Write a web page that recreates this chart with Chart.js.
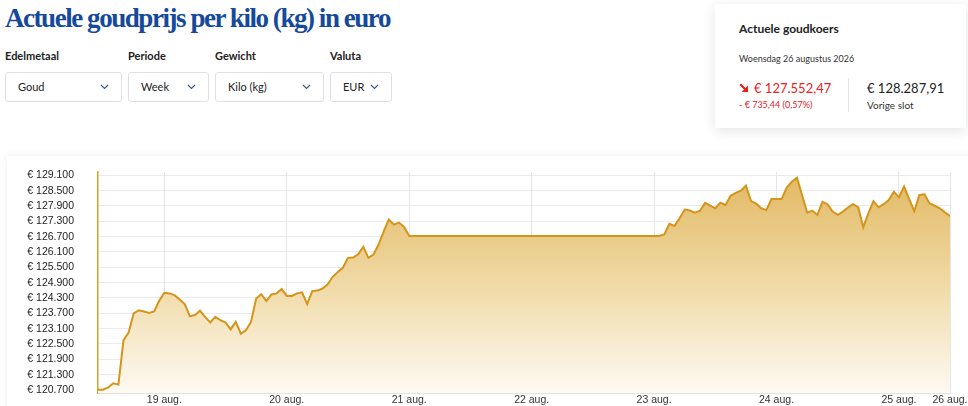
<!DOCTYPE html>
<html>
<head>
<meta charset="utf-8">
<script src="https://cdn.jsdelivr.net/npm/chart.js@4.4.1/dist/chart.umd.min.js"></script>
<style>
html, body { margin: 0; padding: 0; width: 968px; height: 406px; overflow: hidden; background: #fff; }
body { position: relative; font-family: Lato, 'Open Sans', sans-serif; color: #1f1f1f; }
h1 { position: absolute; left: 5px; top: 2px; margin: 0; font-family: 'Liberation Serif', serif; font-weight: 700;
     font-size: 27px; line-height: 32px; color: #15499c; letter-spacing: -1.45px; white-space: nowrap; }
.lbl { position: absolute; top: 48px; font-size: 11px; line-height: 15px; font-weight: 700; color: #222; }
.sel { position: absolute; top: 72px; height: 30px; box-sizing: border-box; border: 1px solid #dde1e7; border-radius: 3px;
       font-size: 11px; line-height: 28px; padding-left: 12px; color: #222; }
.sel svg { position: absolute; right: 12px; top: 11px; }
.card { position: absolute; left: 715px; top: 4px; width: 251px; height: 124px; background: #fff;
        box-shadow: 0 3px 12px rgba(30, 40, 60, 0.12); }
.card div { position: absolute; white-space: nowrap; }
.panel { position: absolute; left: 7px; top: 156px; width: 980px; height: 270px; background: #fff;
         box-shadow: 0 0 8px rgba(30, 40, 60, 0.08); }
#goldChart { position: absolute; left: 7px; top: 157px; }
</style>
</head>
<body>
<h1>Actuele goudprijs per kilo (kg) in euro</h1>

<div class="lbl" style="left:5px">Edelmetaal</div>
<div class="lbl" style="left:128px">Periode</div>
<div class="lbl" style="left:215px">Gewicht</div>
<div class="lbl" style="left:330px">Valuta</div>

<div class="sel" style="left:5px;width:117px">Goud<svg width="9" height="6"><polyline points="1,1 4.5,4.5 8,1" fill="none" stroke="#3d5f8f" stroke-width="1.2"/></svg></div>
<div class="sel" style="left:128px;width:81px">Week<svg width="9" height="6"><polyline points="1,1 4.5,4.5 8,1" fill="none" stroke="#3d5f8f" stroke-width="1.2"/></svg></div>
<div class="sel" style="left:215px;width:109px">Kilo (kg)<svg width="9" height="6"><polyline points="1,1 4.5,4.5 8,1" fill="none" stroke="#3d5f8f" stroke-width="1.2"/></svg></div>
<div class="sel" style="left:330px;width:62px">EUR<svg width="9" height="6"><polyline points="1,1 4.5,4.5 8,1" fill="none" stroke="#3d5f8f" stroke-width="1.2"/></svg></div>

<div class="card">
  <div style="left:24px;top:17px;font-size:12px;line-height:15px;font-weight:700;color:#222">Actuele goudkoers</div>
  <div style="left:24px;top:49px;font-size:9px;line-height:12px;color:#333">Woensdag 26 augustus 2026</div>
  <svg style="position:absolute;left:24px;top:79px" width="10" height="10"><line x1="1.2" y1="1.2" x2="6.5" y2="6.5" stroke="#e8211d" stroke-width="2.2"/><polygon points="9,2.6 9,9 2.6,9" fill="#e8211d"/></svg>
  <div style="left:39px;top:76px;font-size:13px;line-height:16px;color:#e8211d">€ 127.552,47</div>
  <div style="left:24px;top:95px;font-size:9px;line-height:12px;color:#e8211d">- € 735,44 (0,57%)</div>
  <div style="left:133px;top:74px;width:1px;height:34px;background:#e3e6ea"></div>
  <div style="left:152px;top:76px;font-size:13px;line-height:16px;color:#222">€ 128.287,91</div>
  <div style="left:152px;top:95px;font-size:10px;line-height:13px;color:#333">Vorige slot</div>
</div>

<div class="panel"></div>
<canvas id="goldChart" width="970" height="253"></canvas>

<script>
// hours counted from 18 aug 00:00
var hours = [11, 12, 13, 14, 15, 16, 17, 18, 19, 20, 21, 22, 23, 24, 25, 26, 27, 28, 29, 30,
    31, 32, 33, 34, 35, 36, 37, 38, 39, 40, 41, 42, 43, 44, 45, 46, 47, 48, 49, 50,
    51, 52, 53, 54, 55, 56, 57, 58, 59, 60, 61, 62, 63, 64, 65, 66, 67, 68, 69, 70, 71, 72,
    121, 122, 123, 124, 125, 126, 127, 128, 129, 130, 131, 132, 133, 134, 135, 136, 137, 138, 139, 140,
    141, 142, 143, 144, 145, 146, 147, 148, 149, 150, 151, 152, 153, 154, 155, 156, 157, 158, 159, 160,
    161, 162, 163, 164, 165, 166, 167, 168, 169, 170, 171, 172, 173, 174, 175, 176, 177, 178];
var prices = [120710, 120710, 120800, 120960, 120910, 122650, 122950, 123700, 123820, 123770,
    123710, 123770, 124190, 124500, 124480, 124410, 124240, 124060, 123590, 123630,
    123800, 123560, 123340, 123560, 123430, 123340, 123070, 123370, 122900, 123040,
    123370, 124280, 124450, 124180, 124440, 124480, 124650, 124380, 124380, 124480,
    124520, 124060, 124570, 124590, 124670, 124830, 125130, 125320, 125480, 125870,
    125880, 126010, 126300, 125870, 126000, 126390, 126910, 127370, 127170, 127250, 127080, 126730,
    126730, 126790, 127200, 127120, 127420, 127760, 127720, 127640, 127720, 128020,
    127910, 127810, 128030, 127940, 128300, 128410, 128500, 128700, 128090, 127990,
    127810, 127740, 128170, 128170, 128170, 128620, 128850, 129010, 128330, 127640,
    127720, 127550, 128060, 127970, 127680, 127550, 127680, 127840, 127970, 127850,
    127060, 127610, 128090, 127850, 127970, 128130, 128460, 128240, 128660, 128170,
    127700, 128330, 128360, 128000, 127910, 127810, 127650, 127510];
var dayTicks = [24, 48, 72, 96, 120, 144, 168, 178];
var dayLabels = ['19 aug.', '20 aug.', '21 aug.', '22 aug.', '23 aug.', '24 aug.', '25 aug.', '26 aug.'];
var priceTicks = [120700, 121300, 121900, 122500, 123100, 123700, 124300, 124900,
    125500, 126100, 126700, 127300, 127900, 128500, 129100];

function euro(v) {
    return '€ ' + String(v).replace(/\B(?=(\d{3})+(?!\d))/g, '.');
}

var points = hours.map(function (h, i) { return { x: h, y: prices[i] }; });

var ctx = document.getElementById('goldChart').getContext('2d');
var goldChart = new Chart(ctx, {
    type: 'line',
    data: {
        datasets: [
            {
                label: 'Goud',
                data: points,
                borderColor: '#d4951a',
                borderWidth: 2,
                pointRadius: 0,
                tension: 0,
                fill: 'start',
                backgroundColor: function (c) {
                    var area = c.chart.chartArea;
                    if (!area) return 'rgba(226,187,104,0.5)';
                    var g = c.chart.ctx.createLinearGradient(0, area.top, 0, area.bottom);
                    g.addColorStop(0, '#e1b862');
                    g.addColorStop(0.5, '#f0d9a4');
                    g.addColorStop(1, '#fdfaf3');
                    return g;
                },
            },
        ],
    },
    options: {
        responsive: false,
        animation: false,
        layout: { padding: { top: 15, right: 27, bottom: 0, left: 0 } },
        plugins: { legend: { display: false }, tooltip: { enabled: false } },
        scales: {
            x: {
                type: 'linear',
                min: 11,
                max: 178,
                afterBuildTicks: function (s) { s.ticks = dayTicks.map(function (v) { return { value: v }; }); },
                afterFit: function (s) { s.height = 16.7; s.paddingLeft = 0; s.paddingRight = 0; },
                ticks: {
                    autoSkip: false,
                    maxRotation: 0,
                    padding: 1,
                    color: '#333',
                    font: { family: 'Liberation Sans', size: 10.5 },
                    callback: function (v, i) { return dayLabels[i]; },
                },
                grid: { color: '#e6e6e6', drawTicks: false },
                border: { color: '#e2e2e2' },
            },
            y: {
                min: 120570,
                max: 129230,
                afterBuildTicks: function (s) { s.ticks = priceTicks.map(function (v) { return { value: v }; }); },
                afterFit: function (s) { s.width = 91; s.paddingTop = 0; s.paddingBottom = 0; },
                ticks: {
                    autoSkip: false,
                    padding: 24,
                    color: '#222',
                    font: { family: 'Liberation Sans', size: 10.5 },
                    callback: function (v) { return euro(v); },
                },
                grid: { color: '#ebebeb', drawTicks: false },
                border: { color: '#d9a127', width: 1.5 },
            },
        },
    },
});
</script>
</body>
</html>
